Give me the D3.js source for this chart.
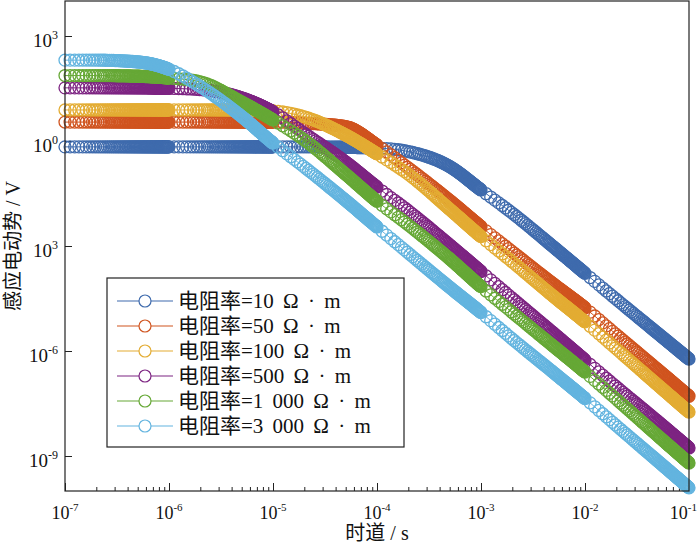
<!DOCTYPE html>
<html lang="zh">
<head>
<meta charset="UTF-8">
<title>感应电动势衰减曲线</title>
<script src="https://d3js.org/d3.v7.min.js"></script>
<style>
  body { margin: 0; background: #fff; }
  svg text { font-family: "Liberation Serif", "Noto Sans CJK SC", serif; fill: #111; }
</style>
</head>
<body>
<svg id="chart" width="700" height="554"></svg>
<script>
const times = [1e-7, 2e-7, 5e-7, 1e-6, 2e-6, 5e-6, 1e-5, 2e-5, 5e-5, 1e-4,
               2e-4, 5e-4, 1e-3, 2e-3, 5e-3, 1e-2, 2e-2, 5e-2, 1e-1];

// induced EMF (V), one array per resistivity
const emf10   = [0.68, 0.68, 0.68, 0.68, 0.68, 0.68, 0.68, 0.68, 0.66, 0.63,
                 0.50, 0.186, 0.040, 8.7e-3, 9.3e-4, 1.66e-4, 3.0e-5, 3.2e-6, 5.9e-7];
const emf50   = [3.47, 3.47, 3.47, 3.47, 3.47, 3.47, 3.47, 3.24, 2.57, 0.76,
                 0.17, 0.020, 3.55e-3, 6.9e-4, 8.1e-5, 1.7e-5, 2.95e-6, 2.95e-7, 5.1e-8];
const emf100  = [7.7, 7.7, 7.7, 7.7, 7.7, 7.7, 7.2, 4.9, 1.48, 0.43,
                 0.112, 0.0112, 1.86e-3, 3.5e-4, 3.6e-5, 6.8e-6, 1.15e-6, 1.07e-7, 1.8e-8];
const emf500  = [33, 33, 33, 32, 29.5, 17, 6.8, 1.66, 0.25, 0.048,
                 0.0102, 1.07e-3, 1.86e-4, 3.2e-5, 3.2e-6, 5.5e-7, 9.5e-8, 9.8e-9, 1.7e-9];
const emf1000 = [74, 74, 71, 63, 49, 12.9, 4.0, 1.07, 0.112, 0.019,
                 4.0e-3, 4.3e-4, 6.9e-5, 1.26e-5, 1.35e-6, 2.5e-7, 4.2e-8, 3.8e-9, 6.3e-10];
const emf3000 = [204, 204, 182, 112, 36, 5.0, 0.87, 0.18, 0.020, 3.5e-3,
                 6.3e-4, 6.6e-5, 1.26e-5, 2.2e-6, 2.4e-7, 4.4e-8, 7.4e-9, 7.2e-10, 1.23e-10];

const seriesNames = ["电阻率=10 Ω · m", "电阻率=50 Ω · m", "电阻率=100 Ω · m",
                     "电阻率=500 Ω · m", "电阻率=1 000 Ω · m", "电阻率=3 000 Ω · m"];
const seriesValues = [emf10, emf50, emf100, emf500, emf1000, emf3000];
const colors = ["#3f6bad", "#d0541f", "#e3ac33", "#7d2482", "#66a836", "#63b4df"];

const xTicks = [1e-7, 1e-6, 1e-5, 1e-4, 1e-3, 1e-2, 1e-1];
const xTickExp = ["-7", "-6", "-5", "-4", "-3", "-2", "-1"];
const yTicks = [1e3, 1e0, 1e-3, 1e-6, 1e-9];
const yTickExp = ["3", "0", "3", "-6", "-9"];   // printed as in the figure

const svg = d3.select("#chart");
const margin = { top: 1, right: 11, bottom: 63, left: 65 };
const width = 700, height = 554;

const x = d3.scaleLog().domain([1e-7, 1e-1]).range([margin.left, width - margin.right]);
const y = d3.scaleLog().domain([1e-10, 1e4]).range([height - margin.bottom, margin.top]);

// minor ticks 2..9 in every decade
const minorTicks = [];
for (let d = -7; d < -1; d++) {
    for (let k = 2; k <= 9; k++) minorTicks.push(k * Math.pow(10, d));
}

const bottom = height - margin.bottom;

svg.append("g")
    .attr("transform", `translate(0,${bottom})`)
    .call(d3.axisBottom(x).tickValues(minorTicks).tickSize(-4).tickFormat(""))
    .call(g => g.select(".domain").remove());
svg.append("g")
    .attr("transform", `translate(0,${bottom})`)
    .call(d3.axisBottom(x).tickValues(xTicks).tickSize(-8).tickFormat(""))
    .call(g => g.select(".domain").remove());
svg.append("g")
    .attr("transform", `translate(${margin.left},0)`)
    .call(d3.axisLeft(y).tickValues(yTicks).tickSize(-7).tickFormat(""))
    .call(g => g.select(".domain").remove());
svg.selectAll(".tick line").attr("stroke", "#222").attr("stroke-width", 1);

// tick labels with superscripts; the last one is pulled inside the page
const xLab = svg.append("g").selectAll("text")
    .data(xTicks)
    .join("text")
    .attr("x", (d, i) => i === xTicks.length - 1 ? width - 3 : x(d))
    .attr("y", bottom + 28)
    .attr("text-anchor", (d, i) => i === xTicks.length - 1 ? "end" : "middle")
    .style("font-size", "18px");
xLab.append("tspan").text("10");
xLab.append("tspan").attr("dy", -8).style("font-size", "11px").text((d, i) => xTickExp[i]);

const yLab = svg.append("g").selectAll("text")
    .data(yTicks)
    .join("text")
    .attr("x", margin.left - 7)
    .attr("y", d => y(d) + 11)
    .attr("text-anchor", "end")
    .style("font-size", "19px");
yLab.append("tspan").text("10");
yLab.append("tspan").attr("dy", -8).style("font-size", "12px").text((d, i) => yTickExp[i]);

// series: thin line plus dense open-circle markers along the drawn curve
const line = d3.line().curve(d3.curveMonotoneX);

// marker times: linear steps inside each decade, then the last gate
const markerTimes = [];
for (let d = -7; d < -1; d++) {
    for (let j = 0; j < 75; j++) markerTimes.push((1 + j * 0.12) * Math.pow(10, d));
}
markerTimes.push(1e-1);

const bisectX = d3.bisector(p => p[0]).left;

seriesValues.forEach((vals, s) => {
    const pts = times.map((t, i) => [x(t), y(vals[i])]);
    const path = svg.append("path")
        .attr("d", line(pts))
        .attr("fill", "none")
        .attr("stroke", colors[s])
        .attr("stroke-width", 1);

    // sample the rendered curve to place the markers on it
    const node = path.node();
    const len = node.getTotalLength();
    const samples = [];
    for (let l = 0; l <= len; l += 0.5) {
        const p = node.getPointAtLength(l);
        samples.push([p.x, p.y]);
    }
    const pEnd = node.getPointAtLength(len);
    samples.push([pEnd.x, pEnd.y]);

    const markers = markerTimes.map(t => {
        const px = x(t);
        let i = bisectX(samples, px);
        if (i <= 0) return [px, samples[0][1]];
        if (i >= samples.length) return [px, samples[samples.length - 1][1]];
        const a = samples[i - 1], b = samples[i];
        const f = b[0] === a[0] ? 0 : (px - a[0]) / (b[0] - a[0]);
        return [px, a[1] + f * (b[1] - a[1])];
    });

    svg.append("g").selectAll("circle")
        .data(markers)
        .join("circle")
        .attr("cx", d => d[0])
        .attr("cy", d => d[1])
        .attr("r", 6)
        .attr("fill", "none")
        .attr("stroke", colors[s])
        .attr("stroke-width", 1.3);
});

// frame
svg.append("rect")
    .attr("x", margin.left)
    .attr("y", margin.top)
    .attr("width", width - margin.left - margin.right)
    .attr("height", bottom - margin.top)
    .attr("fill", "none")
    .attr("stroke", "#222")
    .attr("stroke-width", 1.2);

// legend
const legend = svg.append("g");
legend.append("rect")
    .attr("x", 107).attr("y", 278)
    .attr("width", 297).attr("height", 169)
    .attr("fill", "#fff")
    .attr("stroke", "#222")
    .attr("stroke-width", 1.2);

const rows = legend.selectAll(".row")
    .data(seriesNames)
    .join("g")
    .attr("class", "row")
    .attr("transform", (d, i) => `translate(0,${301 + i * 25})`);
rows.append("line")
    .attr("x1", 117).attr("x2", 173)
    .attr("stroke", (d, i) => colors[i])
    .attr("stroke-width", 1.2);
rows.append("circle")
    .attr("cx", 145).attr("r", 6)
    .attr("fill", "#fff")
    .attr("stroke", (d, i) => colors[i])
    .attr("stroke-width", 1.2);
rows.append("text")
    .attr("x", 178).attr("y", 7)
    .style("font-size", "21px")
    .style("word-spacing", "4px")
    .text(d => d);

// axis titles
svg.append("text")
    .attr("x", (margin.left + width - margin.right) / 2)
    .attr("y", 540)
    .attr("text-anchor", "middle")
    .style("font-size", "20px")
    .text("时道 / s");

svg.append("text")
    .attr("transform", `translate(20,${(margin.top + bottom) / 2}) rotate(-90)`)
    .attr("text-anchor", "middle")
    .style("font-size", "20px")
    .text("感应电动势 / V");
</script>
</body>
</html>
